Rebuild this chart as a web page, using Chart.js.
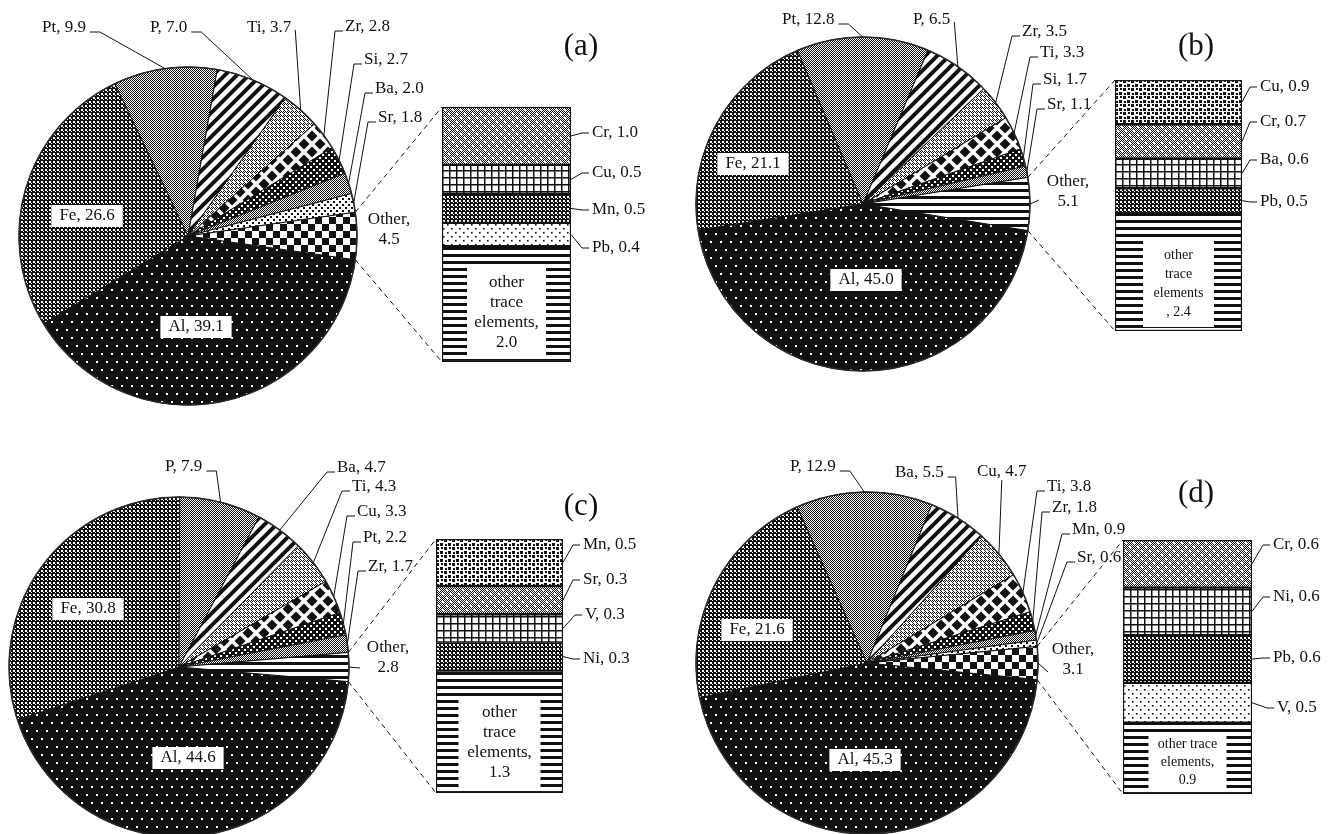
<!DOCTYPE html>
<html>
<head>
<meta charset="utf-8">
<title>Element composition, pie of bar</title>
<script src="https://cdn.jsdelivr.net/npm/chart.js@4.4.1/dist/chart.umd.min.js"></script>
<style>
  body { margin: 0; background: #fff; }
  #page { position: relative; width: 1338px; height: 834px; overflow: hidden; background: #fff; }
  #page canvas { position: absolute; }
  .tag { position: absolute; font: 31px "Liberation Serif", serif; color: #111; transform: translate(-50%, -50%); white-space: nowrap; }
</style>
</head>
<body>
<div id="page"></div>
<script>
// ---- Data (percent) ----
// (a)
const namesA = ["Al", "Fe", "Pt", "P", "Ti", "Zr", "Si", "Ba", "Sr", "Other"];
const valuesA = [39.1, 26.6, 9.9, 7.0, 3.7, 2.8, 2.7, 2.0, 1.8, 4.5];
const barNamesA = ["Cr", "Cu", "Mn", "Pb", "other trace elements"];
const barValuesA = [1.0, 0.5, 0.5, 0.4, 2.0];
// (b)
const namesB = ["Al", "Fe", "Pt", "P", "Zr", "Ti", "Si", "Sr", "Other"];
const valuesB = [45.0, 21.1, 12.8, 6.5, 3.5, 3.3, 1.7, 1.1, 5.1];
const barNamesB = ["Cu", "Cr", "Ba", "Pb", "other trace elements"];
const barValuesB = [0.9, 0.7, 0.6, 0.5, 2.4];
// (c)
const namesC = ["Al", "Fe", "P", "Ba", "Ti", "Cu", "Pt", "Zr", "Other"];
const valuesC = [44.6, 30.8, 7.9, 4.7, 4.3, 3.3, 2.2, 1.7, 2.8];
const barNamesC = ["Mn", "Sr", "V", "Ni", "other trace elements"];
const barValuesC = [0.5, 0.3, 0.3, 0.3, 1.3];
// (d)
const namesD = ["Al", "Fe", "P", "Ba", "Cu", "Ti", "Zr", "Mn", "Sr", "Other"];
const valuesD = [45.3, 21.6, 12.9, 5.5, 4.7, 3.8, 1.8, 0.9, 0.6, 3.1];
const barNamesD = ["Cr", "Ni", "Pb", "V", "other trace elements"];
const barValuesD = [0.6, 0.6, 0.6, 0.5, 0.9];

const INK = "#111";
const FONT = '17px "Liberation Serif"';

// ---- Fill patterns (black & white hatches) ----
function pat(w, h, draw) {
  const c = document.createElement("canvas");
  c.width = w; c.height = h;
  const g = c.getContext("2d");
  draw(g, w, h);
  return g.createPattern(c, "repeat");
}
function bg(g, w, h, col) { g.fillStyle = col; g.fillRect(0, 0, w, h); }

const P = {
  alDots: pat(10, 16, (g, w, h) => { bg(g, w, h, INK); g.fillStyle = "#fff"; g.fillRect(1, 1, 2, 2); g.fillRect(6, 9, 2, 2); }),
  fine: pat(4, 4, (g, w, h) => { bg(g, w, h, INK); g.fillStyle = "#fff"; g.fillRect(1, 1, 2, 2); g.fillRect(3, 3, 1, 1); }),
  gray: pat(2, 2, (g, w, h) => { bg(g, w, h, "#fff"); g.fillStyle = INK; g.fillRect(0, 0, 1, 1); g.fillRect(1, 1, 1, 1); }),
  diag: pat(12, 12, (g, w, h) => {
    bg(g, w, h, "#fff"); g.strokeStyle = INK; g.lineWidth = 4;
    [[-6, 6, 6, -6], [0, 12, 12, 0], [6, 18, 18, 6]].forEach(s => { g.beginPath(); g.moveTo(s[0], s[1]); g.lineTo(s[2], s[3]); g.stroke(); });
  }),
  mesh: pat(4, 4, (g, w, h) => {
    bg(g, w, h, "#fff"); g.fillStyle = INK;
    for (let y = 0; y < 4; y++) for (let x = 0; x < 4; x++)
      if ((x + y) % 2 === 0 && !(x === 1 && y === 1) && !(x === 2 && y === 2)) g.fillRect(x, y, 1, 1);
  }),
  diamonds: pat(16, 16, (g, w, h) => {
    bg(g, w, h, "#fff"); g.fillStyle = INK;
    [[8, 8], [0, 0], [16, 0], [0, 16], [16, 16]].forEach(p => {
      g.beginPath(); g.moveTo(p[0], p[1] - 5.5); g.lineTo(p[0] + 5.5, p[1]); g.lineTo(p[0], p[1] + 5.5); g.lineTo(p[0] - 5.5, p[1]); g.closePath(); g.fill();
    });
  }),
  darkDots: pat(6, 6, (g, w, h) => { bg(g, w, h, INK); g.fillStyle = "#fff"; g.fillRect(1, 1, 2, 2); g.fillRect(4, 4, 2, 2); }),
  confLight: pat(6, 6, (g, w, h) => { bg(g, w, h, "#fff"); g.fillStyle = INK; g.fillRect(0, 0, 2, 2); g.fillRect(3, 3, 2, 2); }),
  checker: pat(14, 14, (g, w, h) => { bg(g, w, h, "#fff"); g.fillStyle = INK; g.fillRect(0, 0, 7, 7); g.fillRect(7, 7, 7, 7); }),
  stripes: pat(4, 7, (g, w, h) => { bg(g, w, h, "#fff"); g.fillStyle = INK; g.fillRect(0, 0, 4, 3); }),
  grid: pat(7, 7, (g, w, h) => { bg(g, w, h, "#fff"); g.fillStyle = INK; g.fillRect(0, 0, 7, 1.5); g.fillRect(0, 0, 1.5, 7); }),
  grayDots: pat(8, 8, (g, w, h) => {
    bg(g, w, h, "#fff"); g.fillStyle = INK;
    for (let y = 0; y < 8; y++) for (let x = 0; x < 8; x++) if ((x + y) % 2 === 0) g.fillRect(x, y, 1, 1);
    g.fillStyle = "#fff"; g.fillRect(2, 2, 2, 2); g.fillRect(6, 6, 2, 2);
  }),
  sparse: pat(8, 8, (g, w, h) => { bg(g, w, h, "#fff"); g.fillStyle = INK; g.fillRect(1, 1, 1.6, 1.6); g.fillRect(5, 5, 1.6, 1.6); }),
  confetti: pat(8, 8, (g, w, h) => {
    bg(g, w, h, "#fff"); g.fillStyle = INK;
    g.fillRect(0, 0, 3, 3); g.fillRect(4, 4, 3, 3); g.fillRect(5, 0, 2, 2); g.fillRect(1, 5, 2, 2);
  })
};

// ---- Layout of each panel (page pixels) ----
const layoutA = {
  box: [0, 0, 669, 417], cx: 188, cy: 236, r: 169, bar: [442, 107, 129, 255],
  tag: ["(a)", 581, 45],
  pieLab: [["B", 196, 327], ["B", 87, 216], ["R", 42, 28, 10], ["R", 150, 28, 10], ["R", 247, 28, 0],
           ["L", 345, 27], ["L", 364, 60], ["L", 375, 89], ["L", 378, 118], ["N", 389, 220]],
  barLab: [[592, 133], [592, 173], [592, 210], [592, 248]],
  trace: { w: 79, h: 91, font: '17px "Liberation Serif"', lh: 20, tpl: "other|trace|elements,|{v}" },
  pie: [P.alDots, P.fine, P.gray, P.diag, P.mesh, P.diamonds, P.darkDots, P.gray, P.confLight, P.checker],
  barFill: [P.grayDots, P.grid, P.fine, P.sparse, P.stripes]
};
const layoutB = {
  box: [669, 0, 669, 417], cx: 863, cy: 204, r: 167, bar: [1115, 80, 127, 251],
  tag: ["(b)", 1196, 45],
  pieLab: [["B", 866, 280], ["B", 753, 164], ["R", 782, 20, 10], ["R", 913, 20, 0],
           ["L", 1022, 32], ["L", 1040, 53], ["L", 1043, 80], ["L", 1047, 105], ["O", 1068, 182, 1039, 200]],
  barLab: [[1260, 87], [1260, 122], [1260, 160], [1260, 202]],
  trace: { w: 71, h: 87, font: '14px "Liberation Serif"', lh: 19, tpl: "other|trace|elements|, {v}" },
  pie: [P.alDots, P.fine, P.gray, P.diag, P.mesh, P.diamonds, P.darkDots, P.gray, P.stripes],
  barFill: [P.confetti, P.grayDots, P.grid, P.fine, P.stripes]
};
const layoutC = {
  box: [0, 417, 669, 417], cx: 179, cy: 667, r: 170, bar: [436, 539, 127, 254],
  tag: ["(c)", 581, 505],
  pieLab: [["B", 188, 758], ["B", 88, 609], ["R", 165, 467, 10], ["L", 337, 468], ["L", 352, 487],
           ["L", 357, 512], ["L", 363, 538], ["L", 368, 567], ["O", 388, 648, 360, 668]],
  barLab: [[583, 545], [583, 580], [585, 615], [583, 659]],
  trace: { w: 82, h: 92, font: '17px "Liberation Serif"', lh: 20, tpl: "other|trace|elements,|{v}" },
  pie: [P.alDots, P.fine, P.gray, P.diag, P.mesh, P.diamonds, P.darkDots, P.gray, P.stripes],
  barFill: [P.confetti, P.grayDots, P.grid, P.fine, P.stripes]
};
const layoutD = {
  box: [669, 417, 669, 417], cx: 867, cy: 663, r: 171, bar: [1123, 540, 129, 254],
  tag: ["(d)", 1196, 492],
  pieLab: [["B", 865, 760], ["B", 757, 630], ["R", 790, 467, 10], ["R", 895, 473, 8], ["D", 977, 472],
           ["L", 1047, 487], ["L", 1052, 508], ["L", 1072, 530], ["L", 1077, 558], ["O", 1073, 650, 1048, 672]],
  barLab: [[1273, 545], [1273, 597], [1273, 658], [1277, 708]],
  trace: { w: 78, h: 56, font: '14px "Liberation Serif"', lh: 18, tpl: "other trace|elements,|{v}" },
  pie: [P.alDots, P.fine, P.gray, P.diag, P.mesh, P.diamonds, P.darkDots, P.gray, P.confLight, P.checker],
  barFill: [P.grayDots, P.grid, P.fine, P.sparse, P.stripes]
};

function drawPath(ctx, pts) {
  ctx.beginPath();
  ctx.moveTo(pts[0][0], pts[0][1]);
  for (let k = 1; k < pts.length; k++) ctx.lineTo(pts[k][0], pts[k][1]);
  ctx.stroke();
}

function addCanvas(rect) {
  const cv = document.createElement("canvas");
  cv.width = rect[2]; cv.height = rect[3];
  cv.style.left = rect[0] + "px"; cv.style.top = rect[1] + "px";
  document.getElementById("page").appendChild(cv);
  return cv;
}

function buildPanel(names, values, barNames, barValues, lay) {
  const [px, py, pw, ph] = lay.box;
  const pieCv = addCanvas(lay.box);
  const barCv = addCanvas(lay.bar);

  // stacked bar (the "other" breakdown)
  const barTotal = barValues.reduce((s, v) => s + v, 0);
  const traceBox = {
    id: "traceBox",
    afterDatasetsDraw(chart) {
      const el = chart.getDatasetMeta(barValues.length - 1).data[0];
      const ctx = chart.ctx, t = lay.trace;
      const bottom = Math.max(el.y, el.base) - 4;
      const x0 = el.x - t.w / 2, y0 = bottom - t.h;
      ctx.save();
      ctx.fillStyle = "#fff";
      ctx.fillRect(x0, y0, t.w, t.h);
      ctx.fillStyle = INK; ctx.font = t.font; ctx.textAlign = "center"; ctx.textBaseline = "middle";
      const ls = t.tpl.replace("{v}", barValues[barValues.length - 1].toFixed(1)).split("|");
      const start = y0 + t.h / 2 - (ls.length - 1) * t.lh / 2;
      ls.forEach((s, k) => ctx.fillText(s, el.x, start + k * t.lh));
      ctx.restore();
    }
  };
  const barChart = new Chart(barCv, {
    type: "bar",
    data: {
      labels: [""],
      datasets: barValues.map((v, i) => ({
        label: barNames[i], data: [v], backgroundColor: lay.barFill[i],
        borderColor: INK, borderWidth: 1.5, borderSkipped: false,
        categoryPercentage: 1, barPercentage: 1
      }))
    },
    options: {
      responsive: false, animation: false,
      layout: { padding: 0 },
      scales: {
        x: { display: false, stacked: true },
        y: { display: false, stacked: true, min: 0, max: barTotal, reverse: true }
      },
      plugins: { legend: { display: false }, tooltip: { enabled: false } }
    },
    plugins: [traceBox]
  });

  // pie with labels, leader lines and connectors
  const total = values.reduce((s, v) => s + v, 0);
  const lx = lay.cx - px, ly = lay.cy - py;
  const pad = {
    left: Math.max(0, 2 * lx - pw), right: Math.max(0, pw - 2 * lx),
    top: Math.max(0, 2 * ly - ph), bottom: Math.max(0, ph - 2 * ly)
  };
  const annotate = {
    id: "annotate",
    afterDraw(chart) {
      const ctx = chart.ctx;
      const arcs = chart.getDatasetMeta(0).data;
      const c0 = arcs[0];
      ctx.save();
      ctx.strokeStyle = "#2a2a2a"; ctx.lineWidth = 1.5;
      ctx.beginPath(); ctx.arc(c0.x, c0.y, c0.outerRadius, 0, Math.PI * 2); ctx.stroke();

      ctx.strokeStyle = INK; ctx.lineWidth = 1; ctx.fillStyle = INK;
      ctx.font = FONT; ctx.textBaseline = "middle";
      lay.pieLab.forEach((s, i) => {
        const el = arcs[i];
        const mid = (el.startAngle + el.endAngle) / 2;
        const tx = el.x + el.outerRadius * Math.cos(mid), ty = el.y + el.outerRadius * Math.sin(mid);
        const mode = s[0], x = s[1] - px, y = s[2] - py;
        const text = names[i] + ", " + values[i].toFixed(1);
        const w = ctx.measureText(text).width;
        ctx.textAlign = "left";
        if (mode === "B") {
          ctx.fillStyle = "#fff";
          ctx.fillRect(x - w / 2 - 8, y - 11, w + 16, 22);
          ctx.fillStyle = INK; ctx.textAlign = "center";
          ctx.fillText(text, x, y);
        } else if (mode === "L") {
          ctx.fillText(text, x, y);
          drawPath(ctx, [[x - 2, y + 4], [x - 10, y + 4], [tx, ty]]);
        } else if (mode === "R") {
          ctx.fillText(text, x, y);
          const e = x + w + 4;
          if (s[3]) drawPath(ctx, [[e, y + 4], [e + s[3], y + 4], [tx, ty]]);
          else drawPath(ctx, [[e, y + 2], [tx, ty]]);
        } else if (mode === "D") {
          ctx.fillText(text, x, y);
          drawPath(ctx, [[x + w / 2, y + 8], [tx, ty]]);
        } else {
          const ls = ("Other,|" + values[i].toFixed(1)).split("|");
          ctx.textAlign = "center";
          ls.forEach((t, k) => ctx.fillText(t, x, y + k * 20));
          if (mode === "O") drawPath(ctx, [[s[3] - px, s[4] - py], [tx, ty]]);
        }
      });

      // labels of the bar segments
      const bx = lay.bar[0] - px, by = lay.bar[1] - py;
      const barRight = bx + lay.bar[2];
      ctx.textAlign = "left";
      lay.barLab.forEach((p, i) => {
        const el = barChart.getDatasetMeta(i).data[0];
        const mid = by + (el.y + el.base) / 2;
        const x = p[0] - px, y = p[1] - py;
        ctx.fillText(barNames[i] + ", " + barValues[i].toFixed(1), x, y);
        drawPath(ctx, [[x - 3, y], [x - 10, y], [barRight, mid]]);
      });

      // dashed connectors from the "Other" slice to the bar
      const other = arcs[arcs.length - 1];
      const rim = a => [other.x + other.outerRadius * Math.cos(a), other.y + other.outerRadius * Math.sin(a)];
      const first = barChart.getDatasetMeta(0).data[0];
      const last = barChart.getDatasetMeta(barValues.length - 1).data[0];
      const top = by + Math.min(first.y, first.base), bottom = by + Math.max(last.y, last.base);
      ctx.setLineDash([5, 4]);
      drawPath(ctx, [rim(other.startAngle), [bx, top]]);
      drawPath(ctx, [rim(other.endAngle), [bx, bottom]]);
      ctx.restore();
    }
  };
  new Chart(pieCv, {
    type: "pie",
    data: {
      labels: names,
      datasets: [{ data: values, backgroundColor: lay.pie, borderColor: INK, borderWidth: 1 }]
    },
    options: {
      responsive: false, animation: false,
      radius: lay.r,
      rotation: 90 + values[values.length - 1] / total * 180,
      layout: { padding: pad },
      plugins: { legend: { display: false }, tooltip: { enabled: false } }
    },
    plugins: [annotate]
  });

  const tag = document.createElement("div");
  tag.className = "tag";
  tag.textContent = lay.tag[0];
  tag.style.left = lay.tag[1] + "px"; tag.style.top = lay.tag[2] + "px";
  document.getElementById("page").appendChild(tag);
}

buildPanel(namesA, valuesA, barNamesA, barValuesA, layoutA);
buildPanel(namesB, valuesB, barNamesB, barValuesB, layoutB);
buildPanel(namesC, valuesC, barNamesC, barValuesC, layoutC);
buildPanel(namesD, valuesD, barNamesD, barValuesD, layoutD);
</script>
</body>
</html>
